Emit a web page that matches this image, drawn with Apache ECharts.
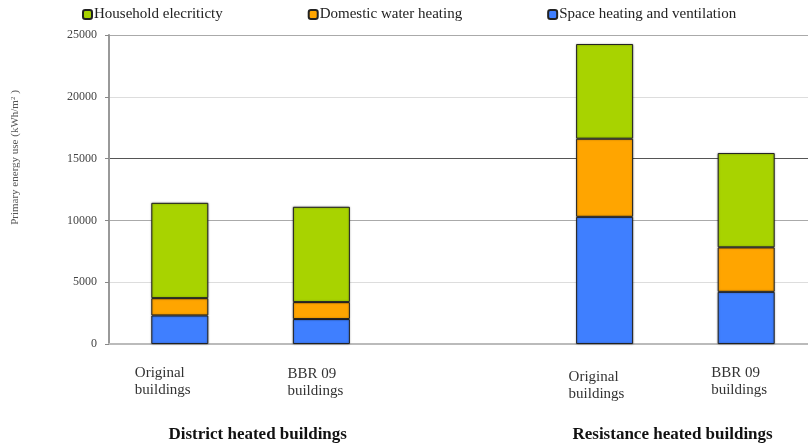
<!DOCTYPE html>
<html>
<head>
<meta charset="utf-8">
<script src="https://cdn.jsdelivr.net/npm/echarts@6/dist/echarts.min.js"></script>
<style>
  html, body { margin: 0; padding: 0; background: #fff; }
  #chart { width: 808px; height: 446px; }
</style>
</head>
<body>
<div id="chart"></div>
<script>
// Building cases (the empty slot separates the two heating groups)
const categories = ['Original\nbuildings', 'BBR 09\nbuildings', '', 'Original\nbuildings', 'BBR 09\nbuildings'];
const groupNames = ['District heated buildings', 'Resistance heated buildings'];
// group captions sit under each pair of bars (in category units)
const groupLabelAt = [0.55, 3.48];

// Primary energy use per component (kWh/m²)
const spaceHeating = [2310, 2020, null, 10290, 4220];
const domesticWater = [1400, 1370, null, 6320, 3600];
const household = [7710, 7710, null, 7660, 7630];

const yTicks = [0, 5000, 10000, 15000, 20000, 25000];

const serif = '"Liberation Serif", "DejaVu Serif", serif';
const chart = echarts.init(document.getElementById('chart'), null, { renderer: 'canvas' });

// per-category label box width and extra top offset; lines stay left-aligned
const labelBox = [
  { w: 90, top: 0 },
  { w: 68, top: 1 },
  { w: 60, top: 0 },
  { w: 72, top: 4 },
  { w: 70, top: 0 }
];
const rich = {};
labelBox.forEach((b, i) => {
  rich['g' + i] = { width: b.w, fontSize: 1, lineHeight: Math.max(b.top, 0.01) };
  rich['f' + i] = { width: b.w, align: 'left', fontFamily: serif, fontSize: 15, color: '#333', lineHeight: 17 };
});

const barStyle = (color) => ({
  color: color,
  borderColor: '#222',
  borderWidth: 1,
  shadowColor: 'rgba(0,0,0,0.35)',
  shadowBlur: 2
});

chart.setOption({
  animation: false,
  backgroundColor: '#fff',
  legend: {
    data: ['Household elecriticty', 'Domestic water heating', 'Space heating and ventilation'],
    left: 82,
    top: 7,
    padding: 0,
    itemWidth: 9,
    itemHeight: 9,
    itemGap: 85,
    textStyle: { fontFamily: serif, fontSize: 15, color: '#222', padding: [0, 0, 0, -3] }
  },
  grid: { left: 109, top: 35, width: 708, height: 309, containLabel: false, outerBoundsMode: 'none' },
  xAxis: [
    {
      type: 'category',
      data: categories,
      axisLine: { lineStyle: { color: '#bbb', width: 2 } },
      axisTick: { show: false },
      axisLabel: {
        interval: 0,
        margin: 21,
        formatter: (v, i) => {
          if (!v) return '';
          const lines = v.split('\n');
          const pre = labelBox[i].top > 0 ? '{g' + i + '| }\n' : '';
          return pre + '{f' + i + '|' + lines[0] + '}\n{f' + i + '|' + lines[1] + '}';
        },
        rich: rich
      },
      splitLine: { show: false }
    },
    {
      type: 'value',
      position: 'bottom',
      min: -0.5,
      max: 4.5,
      axisLine: { show: false },
      axisTick: { show: false },
      splitLine: { show: false },
      axisLabel: {
        customValues: groupLabelAt,
        margin: 82,
        fontFamily: serif,
        fontSize: 17,
        fontWeight: 'bold',
        color: '#111',
        formatter: (v) => groupNames[groupLabelAt.indexOf(v)] || ''
      }
    }
  ],
  yAxis: {
    type: 'value',
    min: yTicks[0],
    max: yTicks[yTicks.length - 1],
    interval: 5000,
    name: 'Primary energy use (kWh/m{sup|2} )',
    nameLocation: 'middle',
    nameGap: 88,
    nameTextStyle: {
      fontFamily: serif, fontSize: 11, color: '#555', padding: [0, 0, 0, 64],
      rich: { sup: { fontFamily: serif, fontSize: 7, color: '#555', verticalAlign: 'top', padding: [0, 0, 4, 0] } }
    },
    axisLine: { show: true, onZero: false, lineStyle: { color: '#999', width: 2 } },
    axisTick: { show: true, length: 4, lineStyle: { color: '#888' } },
    axisLabel: { margin: 12, fontFamily: serif, fontSize: 12, color: '#444', formatter: (v) => String(v) },
    splitLine: {
      show: true,
      lineStyle: { color: ['#bbb', '#ddd', '#aaa', '#555', '#ddd', '#aaa'], width: 1 }
    }
  },
  series: [
    {
      name: 'Space heating and ventilation',
      type: 'bar', stack: 'total', barWidth: 57,
      data: spaceHeating,
      itemStyle: barStyle('#3f7fff')
    },
    {
      name: 'Domestic water heating',
      type: 'bar', stack: 'total', barWidth: 57,
      data: domesticWater,
      itemStyle: barStyle('#ffa500')
    },
    {
      name: 'Household elecriticty',
      type: 'bar', stack: 'total', barWidth: 57,
      data: household,
      itemStyle: barStyle('#a8d300')
    }
  ]
});
</script>
</body>
</html>
